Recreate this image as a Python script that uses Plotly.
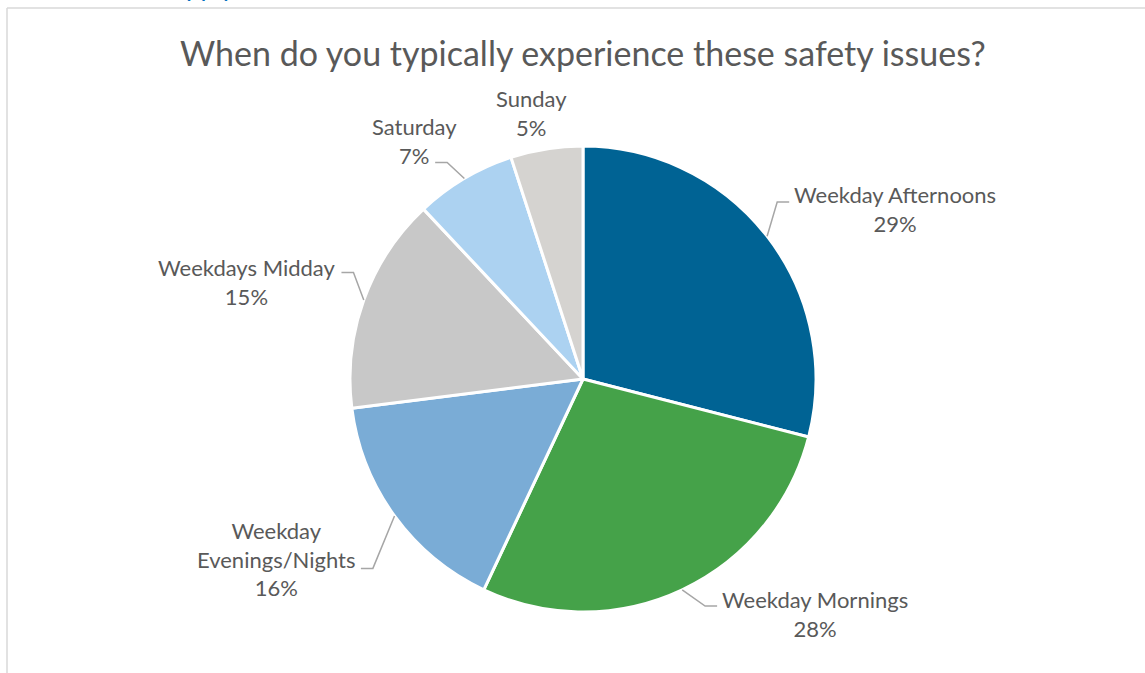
import math
import plotly.graph_objects as go

W, H = 1145, 673

# data
categories = ["Weekday Afternoons", "Weekday Mornings", "Weekday<br>Evenings/Nights",
              "Weekdays Midday", "Saturday", "Sunday"]
shares = [29, 28, 16, 15, 7, 5]
colors = ["#006394", "#45a249", "#7aacd6", "#c8c8c8", "#acd2f1", "#d5d3d0"]

# pie geometry in pixels (centre + radius)
CX, CY, R = 583, 379, 233
FONT = "Lato, 'Open Sans', sans-serif"
TXT = "#595959"
LINE = "#a6a6a6"

# per label tweaks (elbow dx, dy, text dx, text dy) in px, tuned by eye
nudge = {
    "Weekday Afternoons": (-12, -17, 0, 7),
    "Weekday Mornings": (11, -9, 0, 8),
    "Weekday<br>Evenings/Nights": (1, 36, 0, -9),
    "Weekdays Midday": (16, -18, 0, 9),
    "Saturday": (-3, 8, 27, -21),
    "Sunday": (-11, -8, 0, 0),
}


def px(x):
    return x / W


def py(y):
    return 1 - y / H


fig = go.Figure(go.Pie(
    labels=categories,
    values=shares,
    sort=False,
    direction="clockwise",
    rotation=0,
    marker=dict(colors=colors, line=dict(color="white", width=3)),
    textinfo="none",
    hoverinfo="label+percent",
    domain=dict(x=[px(CX - R), px(CX + R)], y=[py(CY + R), py(CY - R)]),
))

shapes = []
annotations = []
total = sum(shares)
cum = 0
for cat, v in zip(categories, shares):
    theta = 2 * math.pi * (cum + v / 2) / total
    cum += v
    s, c = math.sin(theta), math.cos(theta)
    dx, dy, tdx, tdy = nudge[cat]
    label = f"{cat}<br>{round(100 * v / total)}%"
    if cat == "Sunday":
        annotations.append(dict(
            x=px(CX + 1.12 * R * s + dx), y=py(CY - 1.12 * R * c + dy),
            xref="paper", yref="paper", text=label, showarrow=False,
            xanchor="center", yanchor="middle", align="center",
            font=dict(family=FONT, size=22, color=TXT)))
        continue
    x0, y0 = CX + R * s, CY - R * c
    ex, ey = CX + 1.12 * R * s + dx, CY - 1.12 * R * c + dy
    side = 1 if s > 0 else -1
    hx = ex + side * 12
    shapes.append(dict(type="path", xref="paper", yref="paper",
                       path=f"M {px(x0)} {py(y0)} L {px(ex)} {py(ey)} L {px(hx)} {py(ey)}",
                       line=dict(color=LINE, width=1.5)))
    annotations.append(dict(
        x=px(hx + side * 3 + tdx), y=py(ey + tdy),
        xref="paper", yref="paper", text=label, showarrow=False,
        xanchor="left" if side > 0 else "right", yanchor="middle", align="center",
        font=dict(family=FONT, size=22, color=TXT)))

# chart frame (top and left edges visible)
shapes.append(dict(type="line", xref="paper", yref="paper", x0=px(7), y0=py(8), x1=px(W), y1=py(8),
                   line=dict(color="#d9d9d9", width=1.5)))
shapes.append(dict(type="line", xref="paper", yref="paper", x0=px(7), y0=py(8), x1=px(7), y1=0,
                   line=dict(color="#d9d9d9", width=1.5)))

# title
annotations.append(dict(x=px(CX), y=py(53), xref="paper", yref="paper",
                        text="When do you typically experience these safety issues?",
                        showarrow=False, xanchor="center", yanchor="middle",
                        font=dict(family=FONT, size=34, color=TXT)))
# cut-off question text above the frame (only its descenders show)
annotations.append(dict(x=px(243), y=py(4), xref="paper", yref="paper",
                        text="apply)", showarrow=False,
                        xanchor="right", yanchor="bottom",
                        font=dict(family=FONT, size=26, color="#0070c0")))

fig.update_layout(
    width=W, height=H,
    margin=dict(l=0, r=0, t=0, b=0),
    paper_bgcolor="white",
    showlegend=False,
    shapes=shapes,
    annotations=annotations,
)

fig.write_html("out.html", config={"displayModeBar": False},
               post_script="document.body.style.margin='0';")
